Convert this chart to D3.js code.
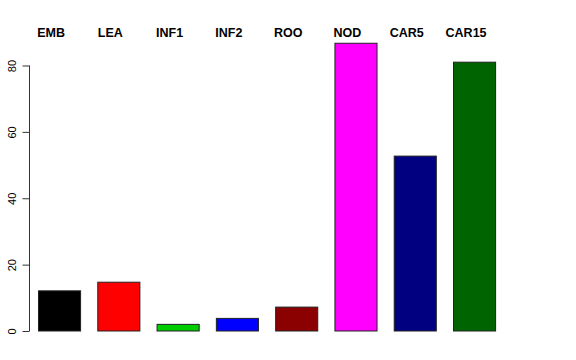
<!DOCTYPE html>
<html>
<head>
<meta charset="utf-8">
<script src="https://cdn.jsdelivr.net/npm/d3@7"></script>
<style>
body { margin: 0; background: #fff; }
svg { display: block; }
</style>
</head>
<body>
<div id="chart"></div>
<script>
// tissue names and values
var tissues = ["EMB", "LEA", "INF1", "INF2", "ROO", "NOD", "CAR5", "CAR15"];
var values = [12.1, 14.7, 2.0, 3.8, 7.2, 86.7, 52.7, 81.0];
var colors = ["#000000", "#ff0000", "#00cd00", "#0000ff", "#8b0000", "#ff00ff", "#000080", "#006400"];
var yTicks = [0, 20, 40, 60, 80];

var W = 576, H = 360;

var svg = d3.select("#chart").append("svg")
    .attr("width", W).attr("height", H);

// band scale: step ~59.3, bar width ~42
var x = d3.scaleBand()
    .domain(tissues)
    .range([29.4, 503.7])
    .paddingInner(0.29)
    .paddingOuter(0.145);

var y = d3.scaleLinear()
    .domain([0, 80])
    .range([331, 65.5]);

// bars
svg.selectAll("rect.bar").data(values).enter().append("rect")
    .attr("class", "bar")
    .attr("x", function(d, i) { return x(tissues[i]) + 0.5; })
    .attr("y", function(d) { return y(d); })
    .attr("width", x.bandwidth())
    .attr("height", function(d) { return y(0) - y(d); })
    .attr("fill", function(d, i) { return colors[i]; })
    .attr("stroke", "#222")
    .attr("stroke-width", 1);

// left axis, R style
var axis = d3.axisLeft(y).tickValues(yTicks).tickSize(7).tickPadding(4);
var g = svg.append("g").attr("transform", "translate(29.5,0)").call(axis);
g.select(".domain").attr("d", "M0," + y(80) + "V" + y(0)).attr("stroke", "#333");
g.selectAll(".tick line").attr("stroke", "#333");
g.selectAll(".tick text")
    .attr("font-family", "Liberation Sans, Arial, sans-serif")
    .attr("font-size", 11)
    .attr("fill", "#000")
    .attr("text-anchor", "middle")
    .attr("x", null).attr("dy", null)
    .attr("transform", "translate(-14,0) rotate(-90)");

// labels along the top
svg.selectAll("text.lab").data(tissues).enter().append("text")
    .attr("class", "lab")
    .attr("x", function(d) { return x(d) + x.bandwidth() / 2 - 8; })
    .attr("y", 37)
    .attr("text-anchor", "middle")
    .attr("font-family", "Liberation Sans, Arial, sans-serif")
    .attr("font-weight", "bold")
    .attr("font-size", 12.5)
    .text(function(d) { return d; });
</script>
</body>
</html>
